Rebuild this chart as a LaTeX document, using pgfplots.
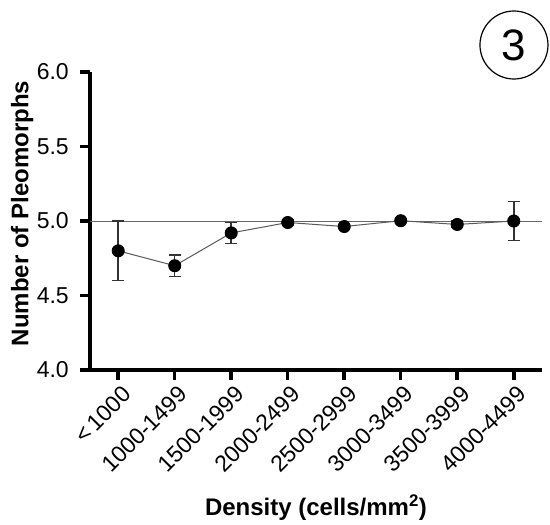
\documentclass[border=0pt]{standalone}
\usepackage{fontspec}
\setmainfont{Liberation Sans}
\usepackage{pgfplots}
\pgfplotsset{compat=1.18}

\begin{document}
\begin{tikzpicture}
\begin{axis}[
    width=452pt, height=298pt, scale only axis,
    xmin=-0.5, xmax=7.5, ymin=4, ymax=6,
    axis x line=bottom, axis y line=left,
    axis line style={line width=3.5pt, -},
    every tick/.style={black, line width=3.5pt},
    major tick length=10pt, tick align=outside,
    xtick={0,...,7},
    xticklabels={<\,1000,1000-1499,1500-1999,2000-2499,2500-2999,3000-3499,3500-3999,4000-4499},
    ytick={4,4.5,5,5.5,6},
    yticklabel style={/pgf/number format/fixed, /pgf/number format/fixed zerofill,
        /pgf/number format/precision=1},
    /pgf/number format/assume math mode=true,
    tick label style={font=\fontsize{23}{25}\selectfont},
    x tick label style={rotate=45, anchor=north east, inner sep=1pt, yshift=-4pt},
    y tick label style={inner sep=1pt, xshift=-10pt},
    xlabel={\textbf{Density (cells/mm\textsuperscript{2})}},
    ylabel={\textbf{Number of Pleomorphs}},
    label style={font=\fontsize{24}{26}\selectfont},
    xlabel style={at={(axis description cs:0.5,-0.463)}, anchor=center},
    ylabel style={at={(axis description cs:-0.150,0.525)}, anchor=center},
    clip=false,
]
\addplot [black!60, line width=1pt] coordinates {(-0.5,5) (7.5,5)};
\addplot [black!65, line width=1pt,
    mark=*, mark size=6pt, mark options={black, fill=black, solid},
    error bars/.cd, y dir=both, y explicit,
    error bar style={line width=1.5pt, black!80},
    error mark options={rotate=90, mark size=6pt, line width=1.5pt, black!80}]
coordinates {
    (0,4.80) +- (0,0.20)
    (1,4.70) +- (0,0.073)
    (2,4.92) +- (0,0.07)
    (3,4.99) +- (0,0.02)
    (4,4.963) +- (0,0.012)
    (5,5.002) +- (0,0.012)
    (6,4.977) +- (0,0.022)
    (7,5.00) +- (0,0.13)
};
\coordinate (bbsw) at (rel axis cs:-0.199,-0.517);
\coordinate (bbne) at (rel axis cs:1.0177,1.2416);
\node[circle, draw, line width=1.2pt, minimum size=68pt, inner sep=0pt,
    font=\fontsize{44}{44}\selectfont] at (rel axis cs:0.938,1.0906) {3};
\end{axis}
\pgfresetboundingbox
\path[use as bounding box] (bbsw) rectangle (bbne);
\end{tikzpicture}
\end{document}
